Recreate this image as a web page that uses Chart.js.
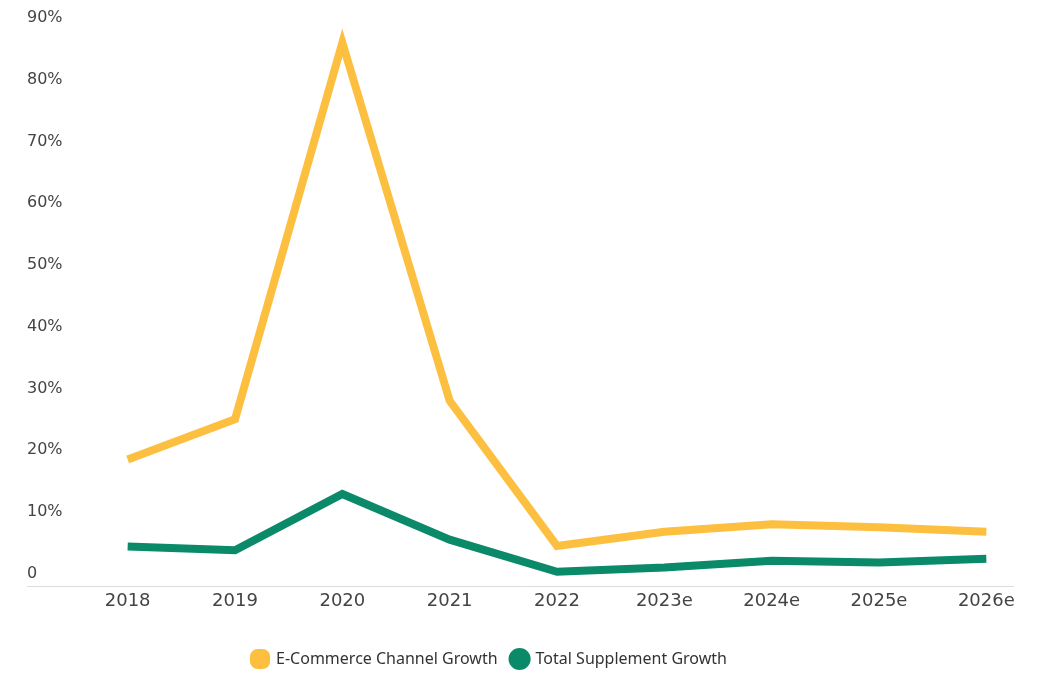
<!DOCTYPE html>
<html>
<head>
<meta charset="utf-8">
<script src="https://cdn.jsdelivr.net/npm/chart.js@4.4.1/dist/chart.umd.min.js"></script>
<style>
  html, body { margin: 0; padding: 0; background: #fff; }
  #wrap { width: 1051px; height: 692px; position: relative; }
</style>
</head>
<body>
<div id="wrap"><canvas id="growthChart"></canvas></div>
<script>
const years = ['2018', '2019', '2020', '2021', '2022', '2023e', '2024e', '2025e', '2026e'];
const ecommerceGrowth = [18.5, 25, 86, 28, 4.5, 6.8, 8, 7.5, 6.8];
const supplementGrowth = [4.4, 3.8, 12.9, 5.5, 0.3, 1, 2.1, 1.8, 2.4];
const yTicks = [0, 10, 20, 30, 40, 50, 60, 70, 80, 90];

const YELLOW = '#fcbf3f';
const GREEN = '#0a8a68';

// thin grey baseline that runs under the y labels too
const baseline = {
  id: 'baseline',
  beforeDatasetsDraw(chart) {
    const { ctx, chartArea, scales } = chart;
    ctx.save();
    ctx.strokeStyle = '#dcdcdc';
    ctx.lineWidth = 1;
    ctx.beginPath();
    ctx.moveTo(scales.y.left, chartArea.bottom + 0.5);
    ctx.lineTo(chartArea.right - 26, chartArea.bottom + 0.5);
    ctx.stroke();
    ctx.restore();
  }
};

// legend sits a little left of centre
const legendShift = {
  id: 'legendShift',
  afterLayout(chart) {
    chart.legend.left -= 44;
    chart.legend.right -= 44;
  }
};

document.addEventListener('DOMContentLoaded', function () {
  const ctx = document.getElementById('growthChart');
  new Chart(ctx, {
    type: 'line',
    data: {
      labels: years,
      datasets: [
        {
          label: 'E-Commerce Channel Growth',
          data: ecommerceGrowth,
          borderColor: YELLOW,
          backgroundColor: YELLOW,
          borderWidth: 8,
          pointRadius: 0,
          pointStyle: 'rectRounded',
          tension: 0
        },
        {
          label: 'Total Supplement Growth',
          data: supplementGrowth,
          borderColor: GREEN,
          backgroundColor: GREEN,
          borderWidth: 8,
          pointRadius: 0,
          pointStyle: 'circle',
          tension: 0
        }
      ]
    },
    options: {
      responsive: true,
      maintainAspectRatio: false,
      animation: false,
      layout: { padding: { left: 27, right: 11, top: 18, bottom: 15 } },
      plugins: {
        title: { display: false },
        tooltip: { enabled: false },
        legend: {
          position: 'bottom',
          labels: {
            usePointStyle: true,
            boxHeight: 10,
            padding: 14,
            color: '#333',
            font: { family: 'Noto Sans', size: 16 }
          }
        }
      },
      scales: {
        x: {
          offset: true,
          grid: { display: false, drawTicks: false },
          border: { display: false },
          afterFit: scale => { scale.height = 51; },
          ticks: {
            color: '#444',
            padding: 5,
            font: { family: 'DejaVu Sans', size: 18 }
          }
        },
        y: {
          min: -2,
          max: 90,
          grid: { display: false },
          border: { display: false },
          afterBuildTicks: scale => { scale.ticks = yTicks.map(v => ({ value: v })); },
          afterFit: scale => { scale.width = 47; },
          ticks: {
            crossAlign: 'far',
            padding: 0,
            color: '#444',
            font: { family: 'DejaVu Sans', size: 16 },
            callback: v => v === 0 ? '0' : v + '%'
          }
        }
      }
    },
    plugins: [baseline, legendShift]
  });
});
</script>
</body>
</html>
